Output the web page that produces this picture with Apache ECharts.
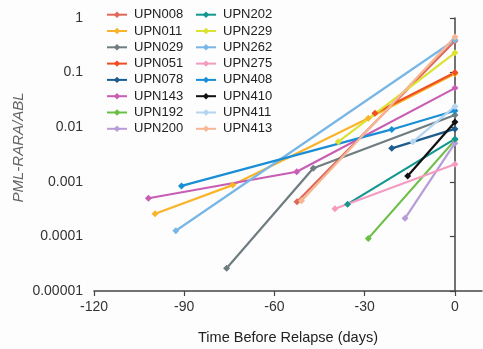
<!DOCTYPE html>
<html><head><meta charset="utf-8">
<script src="https://cdn.jsdelivr.net/npm/echarts@6/dist/echarts.min.js"></script>
<style>html,body{margin:0;padding:0;background:#fdfdfe}#c{width:483px;height:349px}</style>
</head><body><div id="c"></div>
<script>
// Series names and colours
const seriesNames = ['UPN008','UPN011','UPN029','UPN051','UPN078','UPN143','UPN192','UPN200',
                     'UPN202','UPN229','UPN262','UPN275','UPN408','UPN410','UPN411','UPN413'];
const seriesColors = ['#e0685a','#f9b42a','#6f7c80','#f04e23','#1c5d8e','#c85db4','#6cbf45','#b79cd8',
                      '#13978f','#dce232','#78b6e6','#f49bc0','#1a8ed5','#111111','#b3d5f1','#f7b793'];

// Data: [days before relapse, PML-RARA/ABL]
const UPN008 = [[-52.5, 0.00043], [0, 0.38]];
const UPN011 = [[-99.7, 0.00026], [-73.9, 0.00087], [-28.8, 0.0146], [0, 0.095]];
const UPN029 = [[-75.9, 0.000026], [-47.1, 0.00177], [0, 0.0167]];
const UPN051 = [[-26.6, 0.018], [0, 0.1]];
const UPN078 = [[-21, 0.0041], [0, 0.0093]];
const UPN143 = [[-101.9, 0.0005], [-52.6, 0.00153], [0, 0.052]];
const UPN192 = [[-28.8, 0.000092], [0, 0.0058]];
const UPN200 = [[-16.6, 0.000214], [0, 0.0051]];
const UPN202 = [[-35.7, 0.00039], [0, 0.0061]];
const UPN229 = [[-38.8, 0.0054], [0, 0.23]];
const UPN262 = [[-92.8, 0.000127], [0, 0.395]];
const UPN275 = [[-39.9, 0.00032], [0, 0.0021]];
const UPN408 = [[-90.9, 0.00084], [-21, 0.0091], [0, 0.020]];
const UPN410 = [[-15.7, 0.00128], [0, 0.0125]];
const UPN411 = [[-14, 0.0054], [0, 0.024]];
const UPN413 = [[-51, 0.00045], [0, 0.45]];
const seriesData = [UPN008,UPN011,UPN029,UPN051,UPN078,UPN143,UPN192,UPN200,
                    UPN202,UPN229,UPN262,UPN275,UPN408,UPN410,UPN411,UPN413];

// Tick labels
const xTickValues = [-120, -90, -60, -30, 0];
const yTickLabels = ['0.00001','0.0001','0.001','0.01','0.1','1'];

const chart = echarts.init(document.getElementById('c'), null, {renderer: 'canvas'});
const sans = "'Liberation Sans', Arial, sans-serif";
const legendBase = {
  orient: 'vertical', itemWidth: 20, itemHeight: 8, itemGap: 2.3, padding: 0,
  textStyle: {fontSize: 13, lineHeight: 14, color: '#222', fontFamily: sans, padding: [0,0,0,2]}
};
chart.setOption({
  animation: false,
  backgroundColor: '#fdfdfe',
  color: seriesColors,
  grid: {left: 94, right: 1, top: 18, bottom: 58, containLabel: false, outerBoundsMode: 'none'},
  legend: [
    Object.assign({data: seriesNames.slice(0, 8), left: 106, top: 7.7}, legendBase),
    Object.assign({data: seriesNames.slice(8), left: 195, top: 7.7}, legendBase)
  ],
  xAxis: {
    type: 'value', min: -120, max: 9, interval: 30,
    name: 'Time Before Relapse (days)', nameLocation: 'middle', nameGap: 39, nameMoveOverlap: false,
    nameTextStyle: {fontSize: 14.5, color: '#222', fontFamily: sans},
    axisLine: {show: true, lineStyle: {color: '#444', width: 1.5}},
    axisTick: {show: true, length: 5, lineStyle: {color: '#444', width: 1.2}, customValues: xTickValues},
    axisLabel: {margin: 9, fontSize: 14, color: '#333', fontFamily: sans, customValues: xTickValues},
    splitLine: {show: false}
  },
  yAxis: {
    type: 'log', logBase: 10, min: 0.00001, max: 1,
    name: 'PML-RARA/ABL', nameLocation: 'middle', nameGap: 68, nameMoveOverlap: false,
    nameTextStyle: {fontSize: 15, color: '#666', fontStyle: 'italic', fontFamily: sans, padding: [0,0,0,14]},
    axisLine: {show: true, lineStyle: {color: '#444', width: 1.5}},
    axisTick: {show: true, length: 5, lineStyle: {color: '#444', width: 1.2}},
    axisLabel: {margin: 11, fontSize: 14, color: '#333', fontFamily: sans,
      formatter: v => yTickLabels[Math.round(Math.log10(v)) + 5]},
    splitLine: {show: false}, minorTick: {show: false}
  },
  series: seriesNames.map((n, i) => ({
    name: n, type: 'line', data: seriesData[i],
    symbol: 'diamond', symbolSize: 7, showSymbol: true,
    lineStyle: {width: 2.2}, itemStyle: {color: seriesColors[i]},
    emphasis: {disabled: true}
  }))
});
</script></body></html>
